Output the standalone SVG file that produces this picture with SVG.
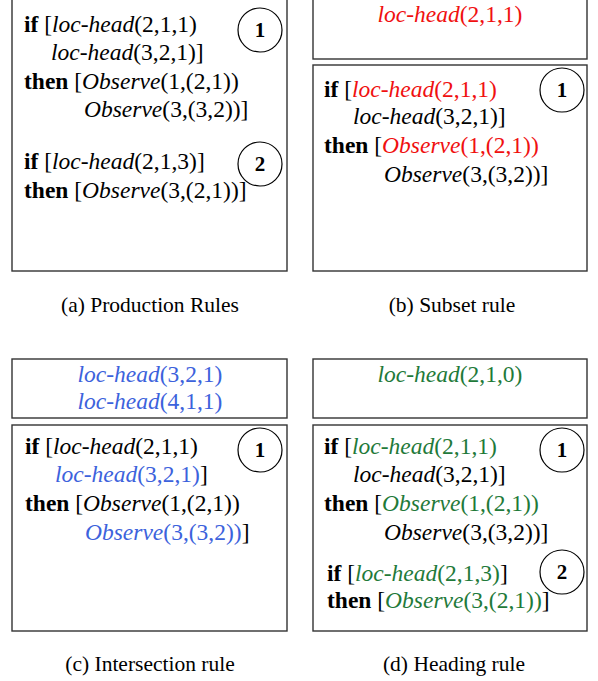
<svg xmlns="http://www.w3.org/2000/svg" width="598" height="681" viewBox="0 0 598 681">
<style>
.box{fill:#fff;stroke:#333;stroke-width:1.4}
.circ{fill:none;stroke:#000;stroke-width:1.2}
.t{font-family:"Liberation Serif","Times New Roman",serif;font-size:23.5px;fill:#000}
.num{font-family:"Liberation Serif","Times New Roman",serif;font-size:21px;font-weight:bold;fill:#000;text-anchor:middle}
.cap{font-family:"Liberation Serif","Times New Roman",serif;font-size:21.5px;fill:#000;text-anchor:middle}
.b{font-weight:bold}
.i{font-style:italic}
.r{fill:#f01010}
.bl{fill:#3c62dc}
.g{fill:#1f7a3a}
</style>
<rect width="598" height="681" fill="#fff"/>

<g id="panel-a">
<rect class="box" x="12" y="-5" width="275" height="276"/>
<text class="t" x="24" y="32"><tspan class="b">if</tspan> [<tspan class="i">loc-head</tspan>(2,1,1)</text>
<text class="t" x="51" y="60"><tspan class="i">loc-head</tspan>(3,2,1)]</text>
<text class="t" x="24" y="89"><tspan class="b">then</tspan> [<tspan class="i">Observe</tspan>(1,(2,1))</text>
<text class="t" x="84" y="117"><tspan class="i">Observe</tspan>(3,(3,2))]</text>
<text class="t" x="24" y="169"><tspan class="b">if</tspan> [<tspan class="i">loc-head</tspan>(2,1,3)]</text>
<text class="t" x="24" y="198"><tspan class="b">then</tspan> [<tspan class="i">Observe</tspan>(3,(2,1))]</text>
<g id="a-rule1"><circle class="circ" cx="260" cy="30" r="22"/><text class="num" x="260" y="37">1</text></g>
<g id="a-rule2"><circle class="circ" cx="260" cy="164" r="22"/><text class="num" x="260" y="171">2</text></g>
<text class="cap" x="150" y="312">(a) Production Rules</text>
</g>

<g id="panel-b">
<rect class="box" x="313" y="-5" width="274" height="64"/>
<text class="t r i" x="450" y="22" text-anchor="middle">loc-head<tspan font-style="normal">(2,1,1)</tspan></text>
<rect class="box" x="313" y="65" width="274" height="206"/>
<text class="t" x="324" y="97"><tspan class="b">if</tspan> [<tspan class="i r">loc-head</tspan><tspan class="r">(2,1,1)</tspan></text>
<text class="t" x="353" y="124"><tspan class="i">loc-head</tspan>(3,2,1)]</text>
<text class="t" x="324" y="153"><tspan class="b">then</tspan> [<tspan class="i r">Observe</tspan><tspan class="r">(1,(2,1))</tspan></text>
<text class="t" x="384" y="182"><tspan class="i">Observe</tspan>(3,(3,2))]</text>
<g id="b-rule1"><circle class="circ" cx="562" cy="90" r="22"/><text class="num" x="562" y="97">1</text></g>
<text class="cap" x="452" y="312">(b) Subset rule</text>
</g>

<g id="panel-c">
<rect class="box" x="12" y="359" width="275" height="59"/>
<text class="t bl i" x="150" y="382" text-anchor="middle">loc-head<tspan font-style="normal">(3,2,1)</tspan></text>
<text class="t bl i" x="150" y="409" text-anchor="middle">loc-head<tspan font-style="normal">(4,1,1)</tspan></text>
<rect class="box" x="12" y="425" width="275" height="206"/>
<text class="t" x="25" y="454"><tspan class="b">if</tspan> [<tspan class="i">loc-head</tspan>(2,1,1)</text>
<text class="t" x="55" y="482"><tspan class="i bl">loc-head</tspan><tspan class="bl">(3,2,1)</tspan>]</text>
<text class="t" x="25" y="511"><tspan class="b">then</tspan> [<tspan class="i">Observe</tspan>(1,(2,1))</text>
<text class="t" x="85" y="540"><tspan class="i bl">Observe</tspan><tspan class="bl">(3,(3,2))</tspan>]</text>
<g id="c-rule1"><circle class="circ" cx="260" cy="450" r="22"/><text class="num" x="260" y="457">1</text></g>
<text class="cap" x="150" y="671">(c) Intersection rule</text>
</g>

<g id="panel-d">
<rect class="box" x="313" y="359" width="274" height="59"/>
<text class="t g i" x="450" y="382" text-anchor="middle">loc-head<tspan font-style="normal">(2,1,0)</tspan></text>
<rect class="box" x="313" y="425" width="274" height="206"/>
<text class="t" x="324" y="454"><tspan class="b">if</tspan> [<tspan class="i g">loc-head</tspan><tspan class="g">(2,1,1)</tspan></text>
<text class="t" x="353" y="482"><tspan class="i">loc-head</tspan>(3,2,1)]</text>
<text class="t" x="324" y="511"><tspan class="b">then</tspan> [<tspan class="i g">Observe</tspan><tspan class="g">(1,(2,1))</tspan></text>
<text class="t" x="384" y="540"><tspan class="i">Observe</tspan>(3,(3,2))]</text>
<text class="t" x="327" y="581"><tspan class="b">if</tspan> [<tspan class="i g">loc-head</tspan><tspan class="g">(2,1,3)</tspan>]</text>
<text class="t" x="327" y="608"><tspan class="b">then</tspan> [<tspan class="i g">Observe</tspan><tspan class="g">(3,(2,1))</tspan>]</text>
<g id="d-rule1"><circle class="circ" cx="562" cy="450" r="22"/><text class="num" x="562" y="457">1</text></g>
<g id="d-rule2"><circle class="circ" cx="562" cy="572" r="22"/><text class="num" x="562" y="579">2</text></g>
<text class="cap" x="454" y="671">(d) Heading rule</text>
</g>

<g id="connectors"></g>
</svg>
